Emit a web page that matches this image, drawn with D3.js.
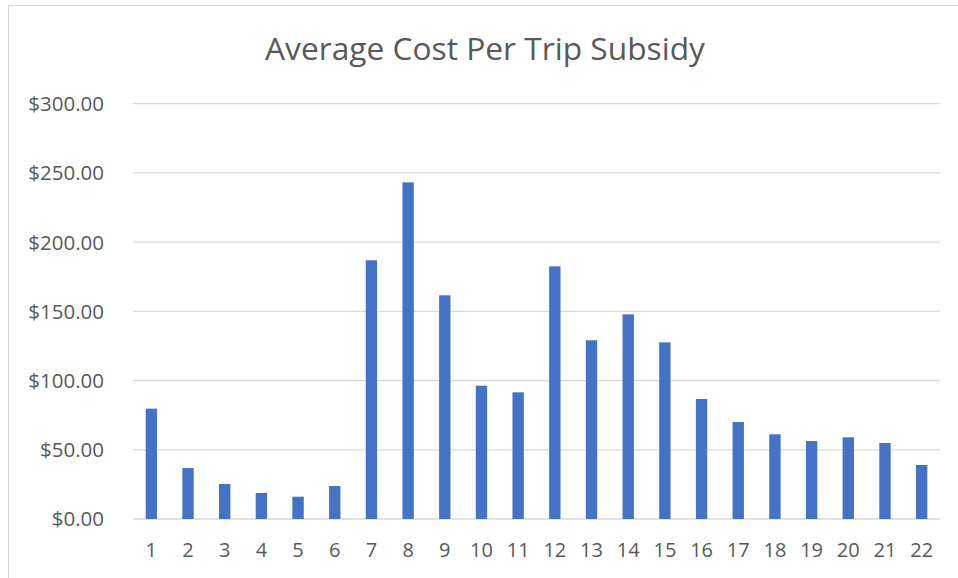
<!DOCTYPE html>
<html>
<head>
<meta charset="utf-8">
<script src="https://cdn.jsdelivr.net/npm/d3@7"></script>
<style>
  html, body { margin: 0; padding: 0; background: #fff; }
  svg { display: block; }
</style>
</head>
<body>
<svg id="chart" width="958" height="578"></svg>
<script>
const title = "Average Cost Per Trip Subsidy";
const categories = ["1","2","3","4","5","6","7","8","9","10","11","12","13","14","15","16","17","18","19","20","21","22"];
const values = [79.7, 36.8, 25.3, 18.8, 16.1, 23.8, 186.9, 243.2, 161.6, 96.3, 91.5, 182.5, 129.1, 147.8, 127.6, 86.7, 70.1, 61.2, 56.3, 59.0, 54.9, 39.0];
const yTicks = [0, 50, 100, 150, 200, 250, 300];

const svg = d3.select("#chart");
const W = 958, H = 578;
const plot = { left: 133, right: 940, top: 103.7, bottom: 519 };
const textColor = "#595959";
const font = "'Open Sans', sans-serif";

// chart border (partially cropped)
svg.append("rect")
  .attr("x", 8.5).attr("y", 5.5)
  .attr("width", W + 20).attr("height", H + 20)
  .attr("fill", "#fff").attr("stroke", "#d9d9d9").attr("stroke-width", 1);

const x = d3.scaleBand().domain(categories).range([plot.left, plot.right]).paddingInner(0.69).paddingOuter(0.345);
const y = d3.scaleLinear().domain([0, 300]).range([plot.bottom, plot.top]);

// gridlines
svg.append("g").selectAll("line").data(yTicks).join("line")
  .attr("x1", plot.left).attr("x2", plot.right)
  .attr("y1", d => y(d)).attr("y2", d => y(d))
  .attr("stroke", "#d9d9d9").attr("stroke-width", 1.3);

// y axis labels
const yAxis = d3.axisLeft(y).tickValues(yTicks).tickSize(0).tickPadding(0)
  .tickFormat(d => "$" + d3.format(".2f")(d));
const gy = svg.append("g").attr("transform", `translate(104,0)`).call(yAxis);
gy.select(".domain").remove();
gy.selectAll("text").attr("fill", textColor).style("font-family", font).style("font-size", "20.5px").attr("dy", "0.34em");

// bars
svg.append("g").selectAll("rect").data(values).join("rect")
  .attr("x", (d, i) => x(categories[i]))
  .attr("width", x.bandwidth())
  .attr("y", d => y(d))
  .attr("height", d => y(0) - y(d))
  .attr("fill", "#4472C4");

// x axis labels
const xAxis = d3.axisBottom(x).tickSize(0).tickPadding(0);
const gx = svg.append("g").attr("transform", `translate(0,${plot.bottom})`).call(xAxis);
gx.select(".domain").remove();
gx.selectAll("text").attr("fill", textColor).style("font-family", font).style("font-size", "20px").attr("y", 38).attr("dy", 0);

// title
const t = svg.append("text")
  .attr("x", 485).attr("y", 60)
  .attr("text-anchor", "middle")
  .attr("fill", textColor)
  .style("font-family", font)
  .style("font-size", "30px")
  .text(title);
const tw = t.node().getComputedTextLength();
if (tw > 0) t.style("font-size", (30 * 440 / tw).toFixed(2) + "px");
</script>
</body>
</html>
